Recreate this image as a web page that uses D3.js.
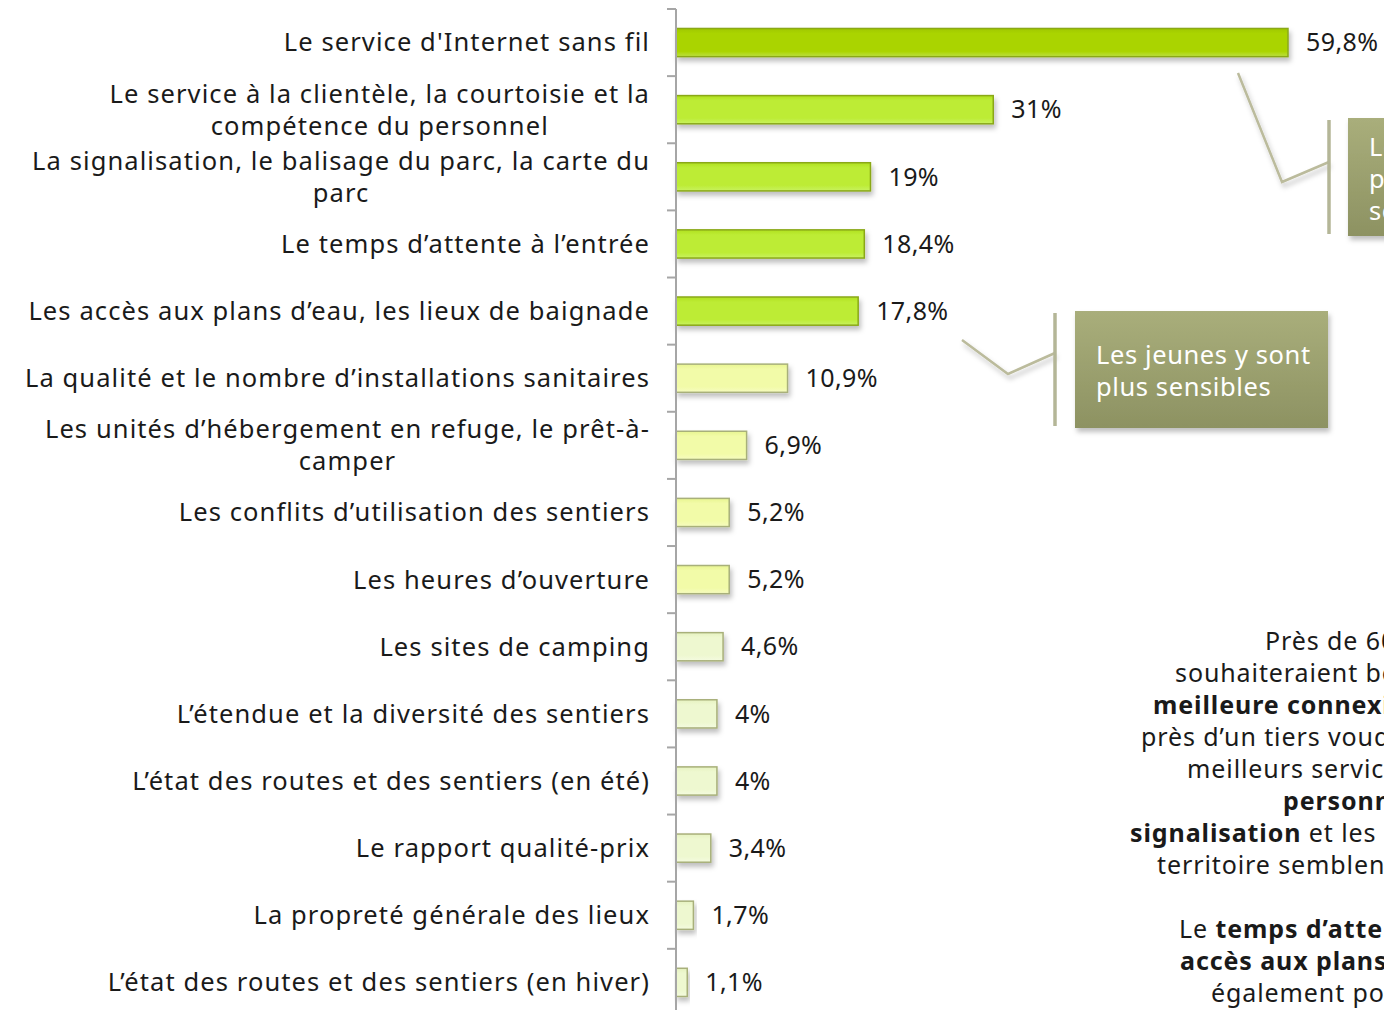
<!DOCTYPE html>
<html>
<head>
<meta charset="utf-8">
<script src="https://cdn.jsdelivr.net/npm/d3@7"></script>
<style>
  body { margin: 0; background: #fff; overflow: hidden; }
  svg { display: block; }
  text { font-family: "Noto Sans", sans-serif; fill: #1a1a1a; }
</style>
</head>
<body>
<script>
// categories (line breaks as in the original labels)
var categories = [
  "Le service d'Internet sans fil",
  "Le service à la clientèle, la courtoisie et la\ncompétence du personnel",
  "La signalisation, le balisage du parc, la carte du\nparc",
  "Le temps d’attente à l’entrée",
  "Les accès aux plans d’eau, les lieux de baignade",
  "La qualité et le nombre d’installations sanitaires",
  "Les unités d’hébergement en refuge, le prêt-à-\ncamper",
  "Les conflits d’utilisation des sentiers",
  "Les heures d’ouverture",
  "Les sites de camping",
  "L’étendue et la diversité des sentiers",
  "L’état des routes et des sentiers (en été)",
  "Le rapport qualité-prix",
  "La propreté générale des lieux",
  "L’état des routes et des sentiers (en hiver)"
];
var values = [59.8, 31, 19, 18.4, 17.8, 10.9, 6.9, 5.2, 5.2, 4.6, 4, 4, 3.4, 1.7, 1.1];
var valueLabels = ["59,8%", "31%", "19%", "18,4%", "17,8%", "10,9%", "6,9%", "5,2%", "5,2%",
                   "4,6%", "4%", "4%", "3,4%", "1,7%", "1,1%"];

var calloutText1 = ["Les jeunes y sont", "plus sensibles"];
var calloutText2 = ["Les jeunes", "plus", "sensibles"];

// side comment, each line as [segments], segment = [text, bold]
var commentLines = [
  [["Près de 60% des visiteurs", false]],
  [["souhaiteraient bénéficier d’une", false]],
  [["meilleure connexion Internet", true]],
  [["près d’un tiers voudraient de", false]],
  [["meilleurs services de la part du", false]],
  [["personnel", true]],
  [["signalisation", true], [" et les informations sur le", false]],
  [["territoire semblent aussi à améliorer.", false]],
  [["", false]],
  [["Le ", false], ["temps d’attente", true]],
  [["accès aux plans d’eau", true]],
  [["également pour", false]]
];
var commentX = [1265, 1175, 1153, 1141, 1187, 1283, 1130, 1157, 0, 1179, 1180, 1211];

var W = 1384, H = 1010;
var axisX = 676;

var svg = d3.select("body").append("svg")
    .attr("width", W)
    .attr("height", H);

var defs = svg.append("defs");

// bar gradients
function makeGrad(id, top, mid, bot) {
  var g = defs.append("linearGradient").attr("id", id)
      .attr("x1", 0).attr("y1", 0).attr("x2", 0).attr("y2", 1);
  g.append("stop").attr("offset", "0%").attr("stop-color", top);
  g.append("stop").attr("offset", "18%").attr("stop-color", mid);
  g.append("stop").attr("offset", "80%").attr("stop-color", mid);
  g.append("stop").attr("offset", "100%").attr("stop-color", bot);
}
makeGrad("g1", "#9fc800", "#aad400", "#bce040");
makeGrad("g2", "#b0e020", "#bdec35", "#c8f260");
makeGrad("g3", "#e8f590", "#f2fba8", "#f6fcc0");
makeGrad("g4", "#e6f2c0", "#eef8d0", "#f4fbe0");

var sh = defs.append("filter").attr("id", "shadow")
    .attr("x", "-10%").attr("y", "-30%").attr("width", "130%").attr("height", "180%");
sh.append("feDropShadow").attr("dx", 2).attr("dy", 4).attr("stdDeviation", 2.5)
    .attr("flood-color", "#000").attr("flood-opacity", 0.25);

var boxGrad = defs.append("linearGradient").attr("id", "boxg")
    .attr("x1", 0).attr("y1", 0).attr("x2", 0).attr("y2", 1);
boxGrad.append("stop").attr("offset", "0%").attr("stop-color", "#a9ae7b");
boxGrad.append("stop").attr("offset", "100%").attr("stop-color", "#8d9262");

// scales
var x = d3.scaleLinear().domain([0, 59.8]).range([axisX, 1288]);
var y = d3.scaleBand().domain(d3.range(categories.length))
    .range([9, 9 + 67.13 * categories.length])
    .paddingInner(0.58).paddingOuter(0.29);

function gradFor(v) {
  if (v > 50) return "url(#g1)";
  if (v > 15) return "url(#g2)";
  if (v > 5) return "url(#g3)";
  return "url(#g4)";
}
function strokeFor(v) {
  if (v > 15) return "#8aa818";
  return "#a8b07a";
}

// bars
svg.append("g").selectAll("rect")
  .data(values)
  .enter().append("rect")
    .attr("x", x(0))
    .attr("y", function(d, i) { return y(i); })
    .attr("width", function(d) { return x(d) - x(0); })
    .attr("height", y.bandwidth())
    .attr("fill", function(d) { return gradFor(d); })
    .attr("stroke", function(d) { return strokeFor(d); })
    .attr("stroke-width", 1.5)
    .attr("filter", "url(#shadow)");

// axis with ticks on band boundaries
var step = y.step();
var axisG = svg.append("g");
axisG.append("line")
    .attr("x1", axisX).attr("x2", axisX)
    .attr("y1", 9).attr("y2", H)
    .attr("stroke", "#a6a6a6").attr("stroke-width", 2);
axisG.selectAll(".tick")
  .data(d3.range(categories.length + 1))
  .enter().append("line")
    .attr("x1", axisX - 9).attr("x2", axisX)
    .attr("y1", function(i) { return 9 + i * step; })
    .attr("y2", function(i) { return 9 + i * step; })
    .attr("stroke", "#a6a6a6").attr("stroke-width", 2);

// category labels
var fs = 25.5, ls = 1.1;
var labG = svg.append("g");
categories.forEach(function(c, i) {
  var lines = c.split("\n");
  var cy = y(i) + y.bandwidth() / 2;
  if (lines.length === 1) {
    labG.append("text")
        .attr("x", 650).attr("y", cy)
        .attr("dy", "0.35em")
        .attr("text-anchor", "end")
        .attr("font-size", fs)
        .attr("letter-spacing", ls)
        .text(lines[0]);
  } else {
    var t = labG.append("text")
        .attr("font-size", fs)
        .attr("letter-spacing", ls)
        .attr("text-anchor", "middle");
    var first = t.append("tspan").text(lines[0]);
    var w = first.node().getComputedTextLength();
    var cx = 650 - w / 2;
    t.selectAll("tspan").remove();
    lines.forEach(function(l, k) {
      t.append("tspan")
          .attr("x", cx)
          .attr("y", cy + (k - (lines.length - 1) / 2) * 32)
          .attr("dy", "0.35em")
          .text(l);
    });
  }
});

// value labels
svg.append("g").selectAll("text")
  .data(values)
  .enter().append("text")
    .attr("x", function(d) { return x(d) + 18; })
    .attr("y", function(d, i) { return y(i) + y.bandwidth() / 2; })
    .attr("dy", "0.35em")
    .attr("font-size", 25)
    .attr("letter-spacing", 0.4)
    .text(function(d, i) { return valueLabels[i]; });

// callouts
function callout(path, barX, bx, by, bw, bh, lines) {
  var g = svg.append("g");
  g.append("path")
      .attr("d", d3.line()(path))
      .attr("fill", "none")
      .attr("stroke", "#bbbb9c").attr("stroke-width", 2.5)
      .attr("filter", "url(#shadow)");
  g.append("line")
      .attr("x1", barX).attr("x2", barX)
      .attr("y1", by + 2).attr("y2", by + bh - 2)
      .attr("stroke", "#b4b697").attr("stroke-width", 3.5);
  g.append("rect")
      .attr("x", bx).attr("y", by)
      .attr("width", bw).attr("height", bh)
      .attr("fill", "url(#boxg)")
      .attr("filter", "url(#shadow)");
  lines.forEach(function(l, k) {
    g.append("text")
        .attr("x", bx + 21)
        .attr("y", by + bh / 2 + 2 + (k - (lines.length - 1) / 2) * 32)
        .attr("dy", "0.35em")
        .attr("font-size", 25.5)
        .attr("letter-spacing", 0.6)
        .style("fill", "#fff")
        .text(l);
  });
}
callout([[962, 340], [1008, 374], [1055, 353]], 1055, 1075, 311, 253, 117, calloutText1);
callout([[1238, 73], [1282, 182], [1329, 162]], 1329, 1348, 118, 253, 118, calloutText2);

// side comment
var cg = svg.append("g");
commentLines.forEach(function(segs, k) {
  if (!segs[0][0]) return;
  var t = cg.append("text")
      .attr("x", commentX[k])
      .attr("y", 641 + k * 32)
      .attr("dy", "0.35em")
      .attr("font-size", 25)
      .attr("letter-spacing", 0.9);
  segs.forEach(function(s) {
    t.append("tspan")
        .attr("font-weight", s[1] ? "bold" : "normal")
        .text(s[0]);
  });
});
</script>
</body>
</html>
